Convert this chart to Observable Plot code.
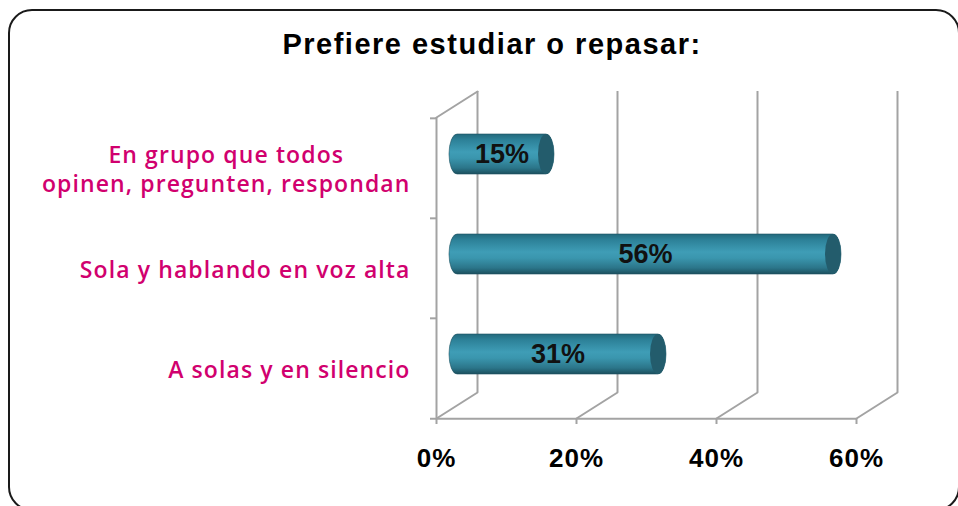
<!DOCTYPE html>
<html><head><meta charset="utf-8">
<script src="https://cdn.jsdelivr.net/npm/d3@7"></script>
<script src="https://cdn.jsdelivr.net/npm/@observablehq/plot@0.6"></script>
<style>
html,body{margin:0;padding:0;background:#fff;}
#wrap{position:relative;width:958px;height:506px;overflow:hidden;}
#frame{position:absolute;left:8px;top:9px;width:952px;height:502px;border:2px solid #1a1a1a;border-radius:24px;box-sizing:border-box;}
#title{position:absolute;left:0;width:984px;top:28px;line-height:33px;text-align:center;font-family:"Liberation Sans",Arial,sans-serif;font-weight:bold;font-size:29px;letter-spacing:1.5px;color:#000;}
#chart{position:absolute;left:0;top:0;}
#chart g[aria-label="y-axis tick label"] text{letter-spacing:1.1px;}
#chart g[aria-label="x-axis tick label"] text{letter-spacing:1px;}
</style></head><body>
<div id="wrap"><div id="frame"></div><div id="title">Prefiere estudiar o repasar:</div><div id="chart"></div></div>
<script>
const categories = ["En grupo que todos opinen, pregunten, respondan", "Sola y hablando en voz alta", "A solas y en silencio"];
const categoryLabels = ["En grupo que todos\nopinen, pregunten, respondan", "Sola y hablando en voz alta", "A solas y en silencio"];
const values = [15, 56, 31];
const xTicks = [0, 20, 40, 60];

const data = categories.map((c, i) => ({category: c, value: values[i]}));
const labelOf = new Map(categories.map((c, i) => [c, categoryLabels[i]]));

const W = 958, H = 506, mT = 117, mB = 88, mL = 436, mR = 102;
const bw = (H - mT - mB) / categories.length;
const back = {dx: 41, dy: -26};
const depthLen = Math.hypot(back.dx, back.dy);
const depthAngle = Math.atan2(back.dx, -back.dy) * 180 / Math.PI;
const grid = {stroke: "#a3a3a3", strokeWidth: 2};
const pxPerUnit = (W - mL - mR) / 60;
const tickUnits = 6 / pxPerUnit;
const bar = {dx: 13, dy: -14, inset: 30, cap: 8};

const chart = Plot.plot({
  width: W, height: H,
  marginTop: mT, marginBottom: mB, marginLeft: mL, marginRight: mR,
  style: {background: "transparent", overflow: "visible"},
  x: {domain: [0, 60]},
  y: {type: "band", domain: categories, paddingInner: 0, paddingOuter: 0},
  marks: [
    // back wall gridlines
    Plot.ruleX(xTicks, {...grid, dx: back.dx, dy: back.dy}),
    // floor diagonals
    Plot.vector(xTicks, {x: d => d, frameAnchor: "bottom", length: depthLen, rotate: depthAngle, anchor: "start", r: 0, ...grid}),
    // left wall
    Plot.ruleX([0], grid),
    Plot.vector([0], {x: d => d, frameAnchor: "top", length: depthLen, rotate: depthAngle, anchor: "start", r: 0, ...grid}),
    Plot.ruleY(categories, {y: d => d, dy: -bw / 2, x1: -tickUnits, x2: 0, ...grid}),
    Plot.ruleY([categories[categories.length - 1]], {y: d => d, dy: bw / 2, x1: -tickUnits, x2: 60, ...grid}),
    // cylinder bodies
    Plot.barX(data, {y: "category", x1: 0, x2: "value", insetTop: bar.inset, insetBottom: bar.inset,
      dx: bar.dx, dy: bar.dy, rx: bar.cap, ry: 20, fill: "url(#cylGrad)", stroke: "#1d5262", strokeWidth: 0.6}),
    // cylinder end caps
    Plot.barX(data, {y: "category", x1: "value", x2: "value", insetLeft: -bar.cap, insetRight: -bar.cap,
      insetTop: bar.inset, insetBottom: bar.inset, dx: bar.dx - bar.cap, dy: bar.dy, rx: bar.cap, ry: 20, fill: "#235c6c"}),
    // value labels
    Plot.text(data, {y: "category", x: d => d.value / 2, text: d => d.value + "%", dx: bar.dx, dy: bar.dy,
      fontSize: 27, fontWeight: "bold", fontFamily: "Liberation Sans, Arial, sans-serif", fill: "#111"}),
    Plot.axisX({ticks: xTicks, tickFormat: d => d + "%", tickSize: 6, tickPadding: 24, label: null,
      stroke: "#a3a3a3", strokeWidth: 2, fontSize: 26, fontWeight: "bold", fontFamily: "Liberation Sans, Arial, sans-serif", fill: "#000"}),
    Plot.axisY({tickSize: 0, tickPadding: 26, label: null, tickFormat: c => labelOf.get(c),
      fontSize: 23, fontWeight: 600, fontFamily: "Open Sans, sans-serif", fill: "#d1006e", lineHeight: 1.26})
  ]
});
document.getElementById("chart").appendChild(chart);

// gradient for cylinder shading
const svg = d3.select(chart);
const defs = svg.insert("defs", ":first-child");
const g = defs.append("linearGradient").attr("id", "cylGrad").attr("x1", 0).attr("y1", 0).attr("x2", 0).attr("y2", 1);
[[0, "#23697c"], [0.15, "#2d8198"], [0.45, "#3f9db6"], [0.6, "#3a96ae"], [0.85, "#2b7589"], [1, "#1c4f5e"]]
  .forEach(([o, c]) => g.append("stop").attr("offset", o).attr("stop-color", c));

// center multi-line category labels within their block (right aligned to the axis)
svg.selectAll('g[aria-label="y-axis tick label"] text').each(function() {
  const tspans = this.querySelectorAll("tspan");
  if (tspans.length > 1) {
    const w = this.getBBox().width;
    this.setAttribute("text-anchor", "middle");
    tspans.forEach(t => t.setAttribute("x", -w / 2));
  }
});
</script>
</body></html>
